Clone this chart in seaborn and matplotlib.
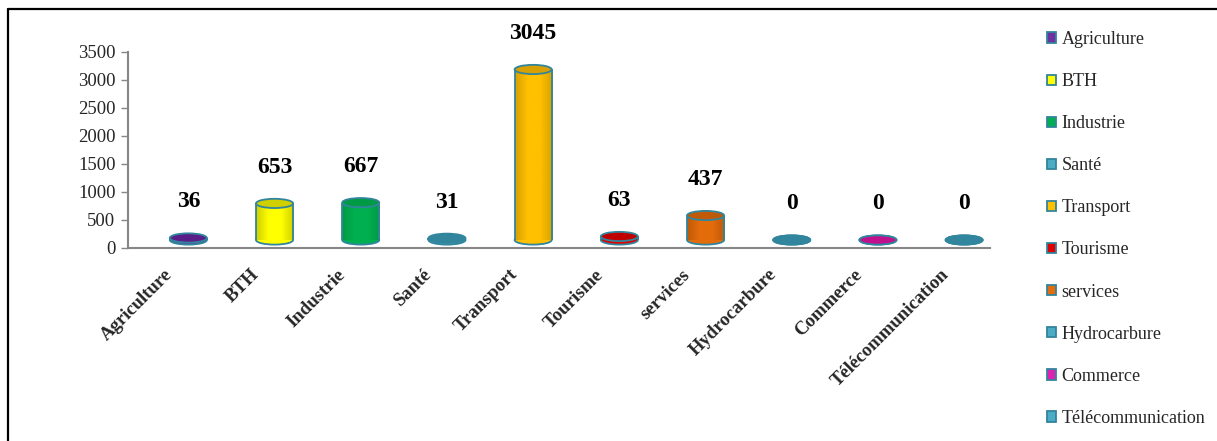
import matplotlib
matplotlib.use("Agg")
import matplotlib.pyplot as plt
import numpy as np
import pandas as pd
import seaborn as sns
from matplotlib.colors import LinearSegmentedColormap
from matplotlib.lines import Line2D
from matplotlib.patches import Ellipse, Patch

# data
categories = ["Agriculture", "BTH", "Industrie", "Santé", "Transport",
              "Tourisme", "services", "Hydrocarbure", "Commerce", "Télécommunication"]
values = [36, 653, 667, 31, 3045, 63, 437, 0, 0, 0]
body_colors = ["#7030A0", "#FFFF00", "#00B050", "#4BACC6", "#FFC000",
               "#E00000", "#E46C0A", "#4BACC6", "#E020B0", "#4BACC6"]
top_colors = ["#5A1E88", "#D0D000", "#009A44", "#31859C", "#D8A000",
              "#C00000", "#C05A08", "#31859C", "#C0108E", "#31859C"]
y_ticks = [0, 500, 1000, 1500, 2000, 2500, 3000, 3500]

edge = "#31859C"
floor = 143          # 3D floor lift, in data units
cap_h = 165          # ellipse height, in data units
bar_w = 0.43

sns.set_theme(style="white")
plt.rcParams["font.family"] = ["Liberation Serif", "DejaVu Serif"]

df = pd.DataFrame({"cat": categories, "val": values})

fig = plt.figure(figsize=(12.17, 4.41), dpi=100)
ax = fig.add_axes([128 / 1217, 1 - 248 / 441, (990 - 128) / 1217, (248 - 52) / 441])

sns.barplot(data=df, x="cat", y="val", hue="cat", palette=body_colors,
            width=bar_w, legend=False, ax=ax, saturation=1, zorder=3)

n = len(categories)
for i, (p, v) in enumerate(zip(ax.patches, values)):
    p.set_y(floor)
    p.set_linewidth(0)
    # bottom cap
    ax.add_patch(Ellipse((i, floor), bar_w, cap_h, facecolor=body_colors[i],
                         edgecolor=edge, lw=1.3, zorder=2))
    if v > 0:
        # cylinder shading across the body
        cmap = LinearSegmentedColormap.from_list(
            "cyl", [top_colors[i], body_colors[i], body_colors[i], top_colors[i]])
        im = ax.imshow(np.linspace(0, 1, 64)[None, :], cmap=cmap, aspect="auto",
                       extent=[i - bar_w / 2, i + bar_w / 2, floor, floor + v],
                       zorder=3.5, interpolation="bilinear")
        im.set_clip_path(p)
        ax.vlines([i - bar_w / 2, i + bar_w / 2], floor, floor + v,
                  colors=edge, lw=1.3, zorder=4)
    # top cap
    ax.add_patch(Ellipse((i, floor + v), bar_w, cap_h, facecolor=top_colors[i],
                         edgecolor=edge, lw=1.3, zorder=5))
    ax.annotate(str(v), (i, floor + v), xytext=(0, 26), textcoords="offset points",
                ha="center", va="center", fontsize=17, fontweight="bold",
                color="black", zorder=6)

ax.set_xlim(-0.7, n - 0.7)
ax.set_ylim(0, 3500)
ax.set_yticks(y_ticks)
ax.set_xticks(np.arange(n) - 0.28)
ax.set_xticklabels(categories, rotation=45, ha="right", va="top",
                   rotation_mode="anchor", fontsize=13.5, fontweight="bold")
ax.tick_params(axis="x", length=0, pad=13)
ax.tick_params(axis="y", length=5, width=1, color="#868686", labelsize=13.5, pad=4,
               left=True, direction="out")
ax.set_xlabel("")
ax.set_ylabel("")
for s in ["top", "right"]:
    ax.spines[s].set_visible(False)
for s in ["left", "bottom"]:
    ax.spines[s].set_color("#868686")
    ax.spines[s].set_linewidth(1.5)

handles = [Patch(facecolor=c, edgecolor=edge, lw=1.3) for c in body_colors]
fig.legend(handles, categories, loc="upper left", bbox_to_anchor=(1047 / 1217, 1 - 31 / 441),
           frameon=False, fontsize=13, handlelength=0.5, handleheight=0.5,
           handletextpad=0.3, labelspacing=1.39, borderpad=0, borderaxespad=0)

# outer chart border (left and top edges visible)
fig.add_artist(Line2D([8 / 1217, 8 / 1217], [0, 1 - 9 / 441], color="black", lw=1.6,
                      transform=fig.transFigure))
fig.add_artist(Line2D([8 / 1217, 1], [1 - 9 / 441, 1 - 9 / 441], color="black", lw=1.6,
                      transform=fig.transFigure))

fig.savefig("out.png", dpi=100)
plt.close(fig)
